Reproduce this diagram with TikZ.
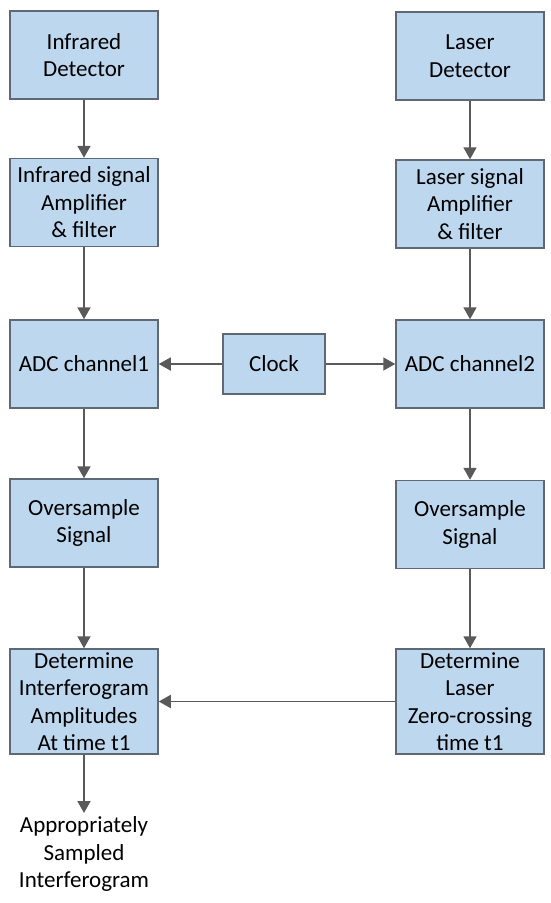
\documentclass[tikz,border=0pt]{standalone}
\usepackage{fontspec}
\setmainfont{Carlito}
\usetikzlibrary{arrows.meta}
\definecolor{boxfill}{RGB}{189,215,238}
\definecolor{boxline}{RGB}{95,105,118}
\definecolor{flowcolor}{RGB}{90,90,90}

\begin{document}
\begin{tikzpicture}[
  x=1pt, y=-1pt,
  every node/.append style={font=\fontsize{23}{27.5}\selectfont, align=center},
  block/.style={draw=boxline, fill=boxfill, line width=1.5pt,
    minimum width=148pt, minimum height=88pt, inner sep=0pt},
  flow/.style={draw=flowcolor, line width=1.8pt, -{Triangle[length=12pt,width=13pt]}},
]

\useasboundingbox (0,0) rectangle (550,903);

% ---------- left chain: infrared ----------
\node[block] (irdet) at (84,55) {Infrared\\Detector};
\node[block] (iramp) at (84,202.5) {Infrared signal\\Amplifier\\\& filter};
\node[block] (adc1) at (84,364) {ADC channel1};
\node[block] (over1) at (84,523) {Oversample\\Signal};
\node[block, minimum height=105pt] (amp) at (84,701.5)
  {Determine\\Interferogram\\Amplitudes\\At time t1};
\node (out) at (84,854) {Appropriately\\Sampled\\Interferogram};

% ---------- right chain: laser ----------
\node[block] (lzdet) at (470,56) {Laser\\Detector};
\node[block] (lzamp) at (470,204) {Laser signal\\Amplifier\\\& filter};
\node[block] (adc2) at (470,364) {ADC channel2};
\node[block] (over2) at (470,524.5) {Oversample\\Signal};
\node[block, minimum height=105pt] (zero) at (470,701.5)
  {Determine\\Laser\\Zero-crossing\\time t1};

% ---------- clock ----------
\node[block, minimum width=102pt, minimum height=60pt] (clock) at (274,364) {Clock};

% ---------- connectors ----------
\draw[flow] (irdet) -- (iramp);
\draw[flow] (iramp) -- (adc1);
\draw[flow] (adc1) -- (over1);
\draw[flow] (over1) -- (amp);
\draw[flow] (amp) -- (out.north);

\draw[flow] (lzdet) -- (lzamp);
\draw[flow] (lzamp) -- (adc2);
\draw[flow] (adc2) -- (over2);
\draw[flow] (over2) -- (zero);

\draw[flow] (clock) -- (adc1);
\draw[flow] (clock) -- (adc2);
\draw[flow] (zero) -- (amp);

\end{tikzpicture}
\end{document}
